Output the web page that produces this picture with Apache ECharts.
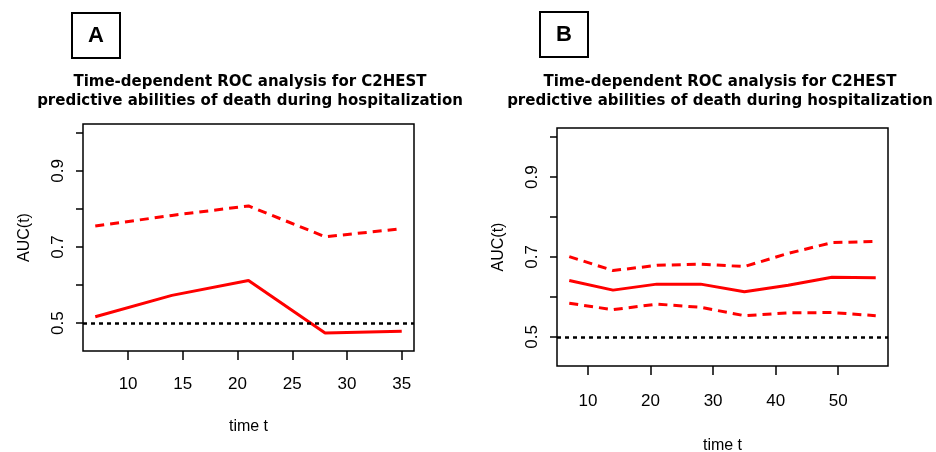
<!DOCTYPE html>
<html>
<head>
<meta charset="utf-8">
<script src="https://cdn.jsdelivr.net/npm/echarts@6/dist/echarts.min.js"></script>
<style>
  html, body { margin: 0; padding: 0; background: #fff; }
  #box { width: 936px; height: 452px; }
</style>
</head>
<body>
<div id="box"></div>
<script>
// panel A: time points and AUC(t)
var timeA = [7, 14, 21, 28, 35];
var aucA = [0.517, 0.573, 0.612, 0.474, 0.479];
var upperA = [0.755, 0.783, 0.808, 0.727, 0.748];

// panel B
var timeB = [7, 14, 21, 28, 35, 42, 49, 56];
var aucB = [0.641, 0.617, 0.632, 0.632, 0.613, 0.629, 0.649, 0.648];
var upperB = [0.701, 0.666, 0.679, 0.682, 0.676, 0.709, 0.736, 0.739];
var lowerB = [0.584, 0.568, 0.582, 0.574, 0.553, 0.560, 0.561, 0.553];

// ticks
var yTicks = [0.5, 0.6, 0.7, 0.8, 0.9, 1.0];
var yLabels = [0.5, 0.7, 0.9];
var xTicksA = [10, 15, 20, 25, 30, 35];
var xTicksB = [10, 20, 30, 40, 50];
var refLine = 0.5;

var titleText = 'Time-dependent ROC analysis for C2HEST\npredictive abilities of death during hospitalization';

function pairs(xs, ys) {
    var out = [];
    for (var i = 0; i < xs.length; i++) out.push([xs[i], ys[i]]);
    return out;
}

function xAxisOf(idx, min, max, ticks, margin, gap) {
    return {
        type: 'value', gridIndex: idx, min: min, max: max,
        name: 'time t', nameLocation: 'middle', nameGap: gap,
        nameTextStyle: { fontFamily: 'Liberation Sans', fontSize: 16, color: '#000' },
        axisLine: { show: false },
        axisTick: { show: true, length: 9, customValues: ticks, lineStyle: { color: '#000', width: 1.5 } },
        axisLabel: { customValues: ticks, margin: margin, fontFamily: 'Liberation Sans', fontSize: 17, color: '#000' },
        splitLine: { show: false }
    };
}

function yAxisOf(idx) {
    return {
        type: 'value', gridIndex: idx, min: 0.427, max: 1.023,
        name: 'AUC(t)', nameLocation: 'middle', nameGap: 50, nameRotate: 90,
        nameTextStyle: { fontFamily: 'Liberation Sans', fontSize: 16, color: '#000' },
        axisLine: { show: false },
        axisTick: { show: true, length: 7, customValues: yTicks, lineStyle: { color: '#000', width: 1.5 } },
        axisLabel: {
            customValues: yLabels, rotate: 90, margin: 16,
            fontFamily: 'Liberation Sans', fontSize: 17, color: '#000',
            formatter: function (v) { return v.toFixed(1); }
        },
        splitLine: { show: false }
    };
}

function solid(idx, data, withRef) {
    var s = {
        type: 'line', xAxisIndex: idx, yAxisIndex: idx, data: data,
        showSymbol: false, symbol: 'none', silent: true,
        lineStyle: { color: '#ff0000', width: 3 }
    };
    if (withRef) {
        s.markLine = {
            symbol: 'none', silent: true, label: { show: false },
            lineStyle: { color: '#000', type: [4, 4], width: 2.5 },
            data: [{ yAxis: refLine }]
        };
    }
    return s;
}

function dashed(idx, data) {
    return {
        type: 'line', xAxisIndex: idx, yAxisIndex: idx, data: data,
        showSymbol: false, symbol: 'none', silent: true,
        lineStyle: { color: '#ff0000', width: 3, type: [9, 6] }
    };
}

function letterBox(x, y, letter) {
    return {
        type: 'group', left: x, top: y,
        children: [
            { type: 'rect', shape: { x: 0, y: 0, width: 48, height: 45 },
              style: { fill: '#fff', stroke: '#000', lineWidth: 2 } },
            { type: 'text', x: 24, y: 23,
              style: { text: letter, fontFamily: 'Liberation Sans', fontWeight: 'bold', fontSize: 22,
                       fill: '#000', align: 'center', verticalAlign: 'middle' } }
        ]
    };
}

var charts = echarts.init(document.getElementById('box'));

var titleStyle = { fontFamily: 'DejaVu Sans', fontWeight: 'bold', fontSize: 15, lineHeight: 19, color: '#000' };

var option = {
    animation: false,
    backgroundColor: '#fff',
    title: [
        { text: titleText, left: 245, top: 68, textAlign: 'center', textStyle: titleStyle },
        { text: titleText, left: 715, top: 68, textAlign: 'center', textStyle: titleStyle }
    ],
    grid: [
        { left: 83, top: 124, width: 331, height: 227, outerBoundsMode: 'none',
          show: true, borderColor: '#000', borderWidth: 1.5, backgroundColor: '#fff' },
        { left: 557, top: 128, width: 331, height: 238, outerBoundsMode: 'none',
          show: true, borderColor: '#000', borderWidth: 1.5, backgroundColor: '#fff' }
    ],
    xAxis: [
        xAxisOf(0, 5.88, 36.12, xTicksA, 25, 68),
        xAxisOf(1, 5.04, 57.96, xTicksB, 27, 72)
    ],
    yAxis: [yAxisOf(0), yAxisOf(1)],
    series: [
        dashed(0, pairs(timeA, upperA)),
        solid(0, pairs(timeA, aucA), true),
        dashed(1, pairs(timeB, upperB)),
        dashed(1, pairs(timeB, lowerB)),
        solid(1, pairs(timeB, aucB), true)
    ],
    graphic: [
        letterBox(71, 12, 'A'),
        letterBox(539, 11, 'B')
    ]
};

charts.setOption(option);
</script>
</body>
</html>
